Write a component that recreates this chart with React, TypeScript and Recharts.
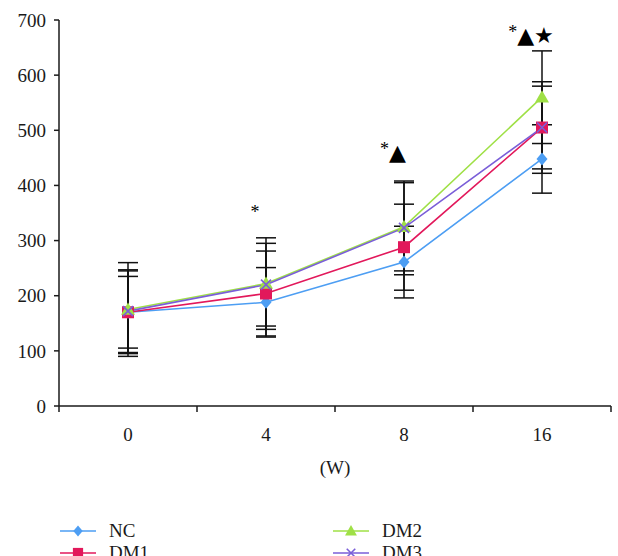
import React from "react";
import { LineChart, Line, XAxis, YAxis, ErrorBar, Legend, ReferenceDot } from "recharts";

const weeks = ["0", "4", "8", "16"];
const ncValues = [170, 188, 261, 448];
const dm1Values = [170, 204, 288, 505];
const dm2Values = [175, 222, 325, 560];
const dm3Values = [172, 220, 323, 505];
const ncErrors = [65, 63, 65, 62];
const dm1Errors = [75, 77, 78, 75];
const dm2Errors = [85, 83, 80, 84];
const dm3Errors = [75, 75, 85, 83];
const yTicks = [0, 100, 200, 300, 400, 500, 600, 700];
const annotationIdx = [1, 2, 3];
const annotationValues = [347, 461, 673];
const annotationTexts = ["*", "*▲", "*▲★"];

const data = weeks.map((w, i) => ({
  idx: i,
  week: w,
  NC: ncValues[i],
  ncErr: ncErrors[i],
  DM1: dm1Values[i],
  dm1Err: dm1Errors[i],
  DM2: dm2Values[i],
  dm2Err: dm2Errors[i],
  DM3: dm3Values[i],
  dm3Err: dm3Errors[i],
}));

const series = [
  { key: "NC", err: "ncErr", color: "#4d9ef3", shape: "diamond" },
  { key: "DM1", err: "dm1Err", color: "#e2185b", shape: "square" },
  { key: "DM2", err: "dm2Err", color: "#9fe046", shape: "triangle" },
  { key: "DM3", err: "dm3Err", color: "#7a5ed8", shape: "cross" },
];

const FONT = '"Liberation Serif", "Times New Roman", serif';
const INK = "#1a1a1a";

function Marker({ cx, cy, shape, color, s = 1 }: any) {
  if (cx == null || cy == null) return null;
  if (shape === "diamond") {
    const a = 5.5 * s, b = 6.5 * s;
    return <polygon points={`${cx},${cy - b} ${cx + a},${cy} ${cx},${cy + b} ${cx - a},${cy}`} fill={color} />;
  }
  if (shape === "square") {
    const h = 6 * s;
    return <rect x={cx - h} y={cy - h} width={2 * h} height={2 * h} fill={color} />;
  }
  if (shape === "triangle") {
    const h = 7 * s;
    return <polygon points={`${cx},${cy - h} ${cx + h},${cy + h * 0.75} ${cx - h},${cy + h * 0.75}`} fill={color} />;
  }
  const h = 5 * s;
  return (
    <g stroke={color} strokeWidth={1.6}>
      <line x1={cx - h} y1={cy - h} x2={cx + h} y2={cy + h} />
      <line x1={cx - h} y1={cy + h} x2={cx + h} y2={cy - h} />
    </g>
  );
}

const XTick = (props: any) => {
  const { x, y, payload } = props;
  const v = payload.value;
  if (Number.isInteger(v)) {
    return (
      <text x={x} y={y} dy={35} textAnchor="middle" fontFamily={FONT} fontSize={19} fill={INK}>
        {weeks[v]}
      </text>
    );
  }
  return <line x1={x} x2={x} y1={y} y2={y + 6} stroke={INK} strokeWidth={1.5} />;
};

const renderLegend = () => (
  <div
    style={{
      display: "grid",
      gridTemplateColumns: "273px 273px",
      gridTemplateRows: "22px 22px",
      gridAutoFlow: "column",
      paddingTop: 42,
      paddingLeft: 60,
      height: 78,
      boxSizing: "border-box",
      fontFamily: FONT,
      fontSize: 19,
      color: INK,
    }}
  >
    {series.map((s) => (
      <div key={s.key} style={{ display: "flex", alignItems: "center", height: 22 }}>
        <svg width={36} height={18}>
          <line x1={0} x2={36} y1={9} y2={9} stroke={s.color} strokeWidth={1.6} />
          <Marker cx={18} cy={9} shape={s.shape} color={s.color} s={0.85} />
        </svg>
        <span style={{ marginLeft: 13 }}>{s.key}</span>
      </div>
    ))}
  </div>
);

export default function App() {
  return (
    <div style={{ position: "absolute", left: 0, top: 0, width: 618, height: 556, background: "#fff" }}>
      <LineChart width={618} height={556} data={data} margin={{ top: 20, right: 7, left: 0, bottom: 0 }}>
        <XAxis
          dataKey="idx"
          type="number"
          domain={[-0.5, 3.5]}
          ticks={[-0.5, 0, 0.5, 1, 1.5, 2, 2.5, 3, 3.5]}
          interval={0}
          tick={<XTick />}
          tickLine={false}
          tickSize={0}
          tickMargin={0}
          height={72}
          axisLine={{ stroke: INK, strokeWidth: 1.5 }}
          label={{ value: "(W)", position: "insideBottom", offset: 4, fontFamily: FONT, fontSize: 19, fill: INK }}
        />
        <YAxis
          domain={[0, 700]}
          ticks={yTicks}
          interval={0}
          width={59}
          tickSize={5}
          tickMargin={8}
          axisLine={{ stroke: INK, strokeWidth: 1.5 }}
          tickLine={{ stroke: INK, strokeWidth: 1.5 }}
          tick={{ fontFamily: FONT, fontSize: 19, fill: INK }}
        />
        {series.map((s) => (
          <Line
            key={s.key}
            dataKey={s.key}
            stroke={s.color}
            strokeWidth={1.6}
            isAnimationActive={false}
            activeDot={false}
            dot={(p: any) => <Marker key={`${s.key}-${p.index}`} cx={p.cx} cy={p.cy} shape={s.shape} color={s.color} />}
          >
            <ErrorBar dataKey={s.err} width={10} stroke="#111" strokeWidth={1.5} direction="y" />
          </Line>
        ))}
        {annotationIdx.map((ix, i) => (
          <ReferenceDot
            key={`ann-${i}`}
            x={ix}
            y={annotationValues[i]}
            r={1}
            ifOverflow="visible"
            shape={(p: any) => (
              <text x={p.cx - 11} y={p.cy} textAnchor="middle" dominantBaseline="central" fill="#000">
                <tspan fontFamily={FONT} fontSize={18} dy={-3}>
                  {annotationTexts[i].charAt(0)}
                </tspan>
                <tspan fontFamily='"DejaVu Sans", sans-serif' fontSize={22} dy={3}>
                  {annotationTexts[i].slice(1)}
                </tspan>
              </text>
            )}
          />
        ))}
        <Legend content={renderLegend} verticalAlign="bottom" align="left" />
      </LineChart>
    </div>
  );
}
